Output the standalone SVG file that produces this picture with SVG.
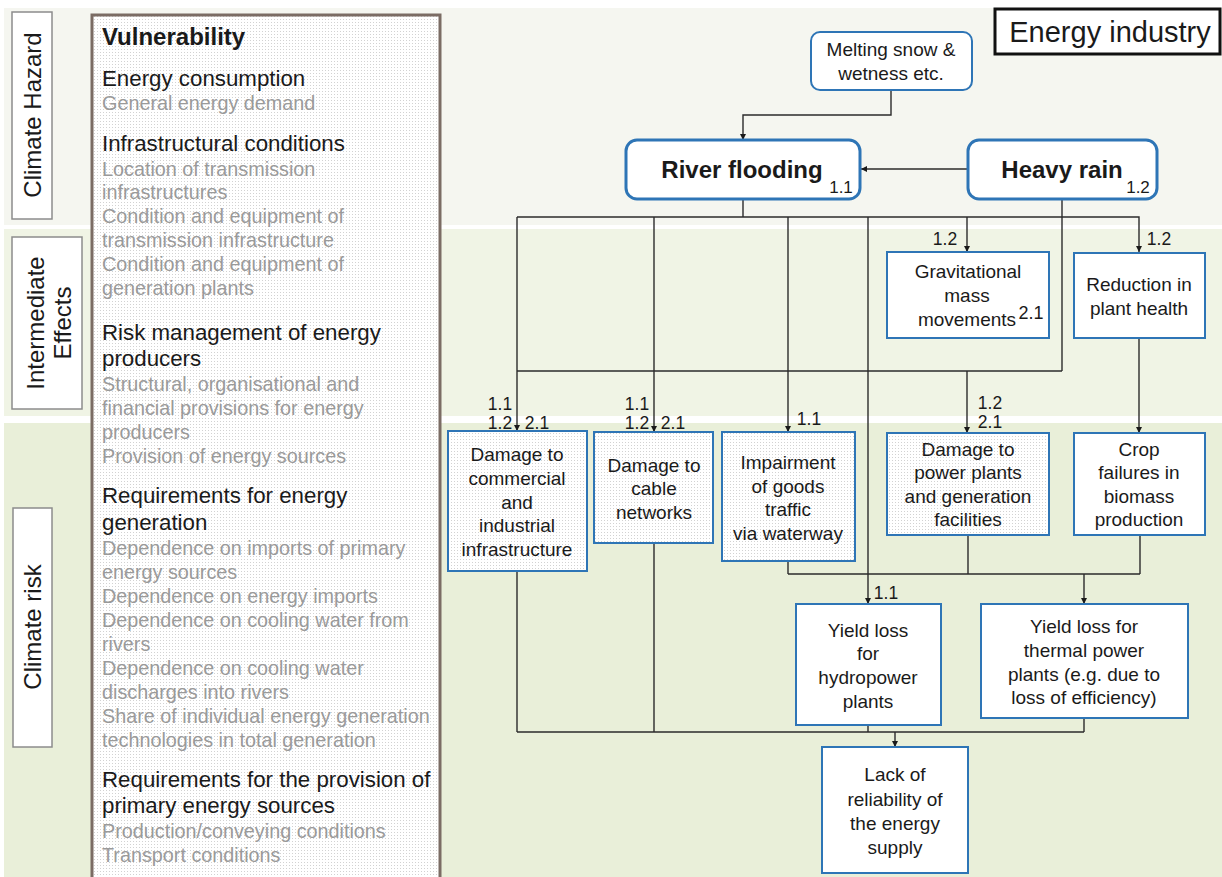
<svg xmlns="http://www.w3.org/2000/svg" width="1222" height="877" viewBox="0 0 1222 877">
  <style>
    text { font-family: "Liberation Sans", Arial, sans-serif; fill: #1a1a1a; }
    .band-label { fill: #fff; stroke: #8c8c8c; stroke-width: 1.5; }
    .side { font-family: "Liberation Sans", Arial, sans-serif; font-size: 24px; text-anchor: middle; }
    .head { font-size: 22.3px; }
    .sub { font-size: 19.8px; fill: #9a9a9a; }
    .node { fill: #fff; stroke: #2e75b6; stroke-width: 2; }
    .node-dot { fill: url(#dots); stroke: #2e75b6; stroke-width: 2; }
    .hazard { fill: #fff; stroke: #2e75b6; stroke-width: 3; }
    .nt { font-size: 19px; text-anchor: middle; }
    .lbl { font-size: 17.5px; text-anchor: middle; }
    .conn path { fill: none; stroke: #2b2b2b; stroke-width: 1.4; }
  </style>
  <defs>
    <pattern id="dots" width="3" height="3" patternUnits="userSpaceOnUse">
      <rect width="3" height="3" fill="#fff"/>
      <rect x="1" y="1" width="1" height="1" fill="#d2d2d2"/>
    </pattern>
    <marker id="arr" viewBox="0 0 10 10" refX="10" refY="5" markerWidth="7" markerHeight="6" orient="auto" markerUnits="userSpaceOnUse">
      <path d="M0,0 L10,5 L0,10 z" fill="#1a1a1a"/>
    </marker>
  </defs>

  <!-- background -->
  <rect width="1222" height="877" fill="#fff"/>

  <!-- horizontal bands -->
  <g id="bands">
    <rect x="4" y="8" width="1218" height="217" fill="#f5f6f0"/>
    <rect x="4" y="229" width="1218" height="187" fill="#f0f4e5"/>
    <rect x="4" y="423" width="1218" height="454" fill="#e9efd9"/>
  </g>

  <!-- band labels -->
  <g id="label-hazard">
    <rect class="band-label" x="12" y="12" width="40" height="207"/>
    <text class="side" transform="translate(41,115) rotate(-90)">Climate Hazard</text>
  </g>
  <g id="label-intermediate">
    <rect class="band-label" x="12" y="237" width="70" height="172"/>
    <text class="side" transform="translate(44,323) rotate(-90)">Intermediate</text>
    <text class="side" transform="translate(71,323) rotate(-90)">Effects</text>
  </g>
  <g id="label-risk">
    <rect class="band-label" x="13" y="508" width="39" height="239"/>
    <text class="side" transform="translate(41,627) rotate(-90)">Climate risk</text>
  </g>

  <!-- vulnerability column -->
  <g id="vulnerability">
    <rect x="92" y="15" width="348" height="870" fill="url(#dots)" stroke="#7b6c64" stroke-width="3"/>
    <text x="102" y="45" font-size="24" font-weight="bold">Vulnerability</text>
    <text class="head" x="102" y="86">Energy consumption</text>
    <text class="sub" x="102" y="110">General energy demand</text>
    <text class="head" x="102" y="151">Infrastructural conditions</text>
    <text class="sub" x="102" y="176">Location of transmission</text>
    <text class="sub" x="102" y="199">infrastructures</text>
    <text class="sub" x="102" y="223">Condition and equipment of</text>
    <text class="sub" x="102" y="247">transmission infrastructure</text>
    <text class="sub" x="102" y="271">Condition and equipment of</text>
    <text class="sub" x="102" y="295">generation plants</text>
    <text class="head" x="102" y="340">Risk management of energy</text>
    <text class="head" x="102" y="366">producers</text>
    <text class="sub" x="102" y="391">Structural, organisational and</text>
    <text class="sub" x="102" y="415">financial provisions for energy</text>
    <text class="sub" x="102" y="439">producers</text>
    <text class="sub" x="102" y="463">Provision of energy sources</text>
    <text class="head" x="102" y="503">Requirements for energy</text>
    <text class="head" x="102" y="530">generation</text>
    <text class="sub" x="102" y="555">Dependence on imports of primary</text>
    <text class="sub" x="102" y="579">energy sources</text>
    <text class="sub" x="102" y="603">Dependence on energy imports</text>
    <text class="sub" x="102" y="627">Dependence on cooling water from</text>
    <text class="sub" x="102" y="651">rivers</text>
    <text class="sub" x="102" y="675">Dependence on cooling water</text>
    <text class="sub" x="102" y="699">discharges into rivers</text>
    <text class="sub" x="102" y="723">Share of individual energy generation</text>
    <text class="sub" x="102" y="747">technologies in total generation</text>
    <text class="head" x="102" y="787">Requirements for the provision of</text>
    <text class="head" x="102" y="813">primary energy sources</text>
    <text class="sub" x="102" y="838">Production/conveying conditions</text>
    <text class="sub" x="102" y="862">Transport conditions</text>
  </g>

  <!-- sector title -->
  <g id="sector-title">
    <rect x="995" y="9" width="225" height="45" fill="#fff" stroke="#111" stroke-width="3"/>
    <text x="1110" y="42" font-size="29" text-anchor="middle">Energy industry</text>
  </g>

  <!-- connectors -->
  <g id="connectors" class="conn">
    <path d="M891,91 V115 H743 V140" marker-end="url(#arr)"/>
    <path d="M968,169 H861" marker-end="url(#arr)"/>
    <path d="M743,199 V217"/>
    <path d="M517,217 H1062"/>
    <path d="M1062,199 V371"/>
    <path d="M1062,217 H1139 V252" marker-end="url(#arr)"/>
    <path d="M967,217 V252" marker-end="url(#arr)"/>
    <path d="M517,217 V431" marker-end="url(#arr)"/>
    <path d="M654,217 V432" marker-end="url(#arr)"/>
    <path d="M788,217 V432" marker-end="url(#arr)"/>
    <path d="M868,217 V604" marker-end="url(#arr)"/>
    <path d="M517,371 H1062"/>
    <path d="M967,371 V433" marker-end="url(#arr)"/>
    <path d="M1139,338 V433" marker-end="url(#arr)"/>
    <path d="M788,561 V574 M968,535 V574 M1140,535 V574 M788,574 H1140"/>
    <path d="M1084,574 V604" marker-end="url(#arr)"/>
    <path d="M517,571 V732 M654,543 V732 M868,725 V732 M1084,718 V732 M517,732 H1084"/>
    <path d="M895,732 V747" marker-end="url(#arr)"/>
  </g>

  <!-- connector labels -->
  <g id="connector-labels">
    <text class="lbl" x="500" y="410">1.1</text>
    <text class="lbl" x="500" y="429">1.2</text>
    <text class="lbl" x="537" y="429">2.1</text>
    <text class="lbl" x="637" y="410">1.1</text>
    <text class="lbl" x="637" y="429">1.2</text>
    <text class="lbl" x="673" y="429">2.1</text>
    <text class="lbl" x="809" y="425">1.1</text>
    <text class="lbl" x="945" y="245">1.2</text>
    <text class="lbl" x="1159" y="245">1.2</text>
    <text class="lbl" x="990" y="409">1.2</text>
    <text class="lbl" x="990" y="428">2.1</text>
    <text class="lbl" x="886" y="599">1.1</text>
  </g>

  <!-- hazard nodes -->
  <g id="melting-snow">
    <rect class="node" x="811" y="32" width="161" height="58" rx="9"/>
    <text class="nt" font-size="18.5" x="891" y="56">Melting snow &amp;</text>
    <text class="nt" font-size="18.5" x="891" y="80">wetness etc.</text>
  </g>
  <g id="river-flooding">
    <rect class="hazard" x="626" y="140" width="234" height="59" rx="11"/>
    <text x="742" y="178" font-size="24" font-weight="bold" text-anchor="middle">River flooding</text>
    <text x="841" y="193" font-size="17" text-anchor="middle">1.1</text>
  </g>
  <g id="heavy-rain">
    <rect class="hazard" x="968" y="140" width="189" height="59" rx="11"/>
    <text x="1062" y="178" font-size="24" font-weight="bold" text-anchor="middle">Heavy rain</text>
    <text x="1138" y="193" font-size="17" text-anchor="middle">1.2</text>
  </g>

  <!-- intermediate effects -->
  <g id="gravitational">
    <rect class="node" x="887" y="252" width="162" height="86"/>
    <text class="nt" x="968" y="278">Gravitational</text>
    <text class="nt" x="967" y="302">mass</text>
    <text class="nt" x="967" y="326">movements</text>
    <text x="1031" y="319" font-size="18" text-anchor="middle">2.1</text>
  </g>
  <g id="plant-health">
    <rect class="node" x="1074" y="253" width="131" height="85"/>
    <text class="nt" x="1139" y="291">Reduction in</text>
    <text class="nt" x="1139" y="315">plant health</text>
  </g>

  <!-- climate risks -->
  <g id="damage-commercial">
    <rect class="node-dot" x="448" y="431" width="139" height="140"/>
    <text class="nt" x="517" y="461">Damage to</text>
    <text class="nt" x="517" y="485">commercial</text>
    <text class="nt" x="517" y="509">and</text>
    <text class="nt" x="517" y="532">industrial</text>
    <text class="nt" x="517" y="556">infrastructure</text>
  </g>
  <g id="damage-cable">
    <rect class="node-dot" x="594" y="432" width="119" height="111"/>
    <text class="nt" x="654" y="472">Damage to</text>
    <text class="nt" x="654" y="495">cable</text>
    <text class="nt" x="654" y="519">networks</text>
  </g>
  <g id="waterway">
    <rect class="node-dot" x="722" y="432" width="133" height="129"/>
    <text class="nt" x="788" y="469">Impairment</text>
    <text class="nt" x="788" y="493">of goods</text>
    <text class="nt" x="788" y="516">traffic</text>
    <text class="nt" x="788" y="540">via waterway</text>
  </g>
  <g id="damage-power-plants">
    <rect class="node-dot" x="887" y="433" width="162" height="102"/>
    <text class="nt" x="968" y="456">Damage to</text>
    <text class="nt" x="968" y="479">power plants</text>
    <text class="nt" x="968" y="503">and generation</text>
    <text class="nt" x="968" y="526">facilities</text>
  </g>
  <g id="crop-failures">
    <rect class="node" x="1074" y="433" width="131" height="102"/>
    <text class="nt" x="1139" y="456">Crop</text>
    <text class="nt" x="1139" y="479">failures in</text>
    <text class="nt" x="1139" y="503">biomass</text>
    <text class="nt" x="1139" y="526">production</text>
  </g>
  <g id="yield-hydropower">
    <rect class="node" x="796" y="604" width="145" height="121"/>
    <text class="nt" x="868" y="637">Yield loss</text>
    <text class="nt" x="868" y="660">for</text>
    <text class="nt" x="868" y="684">hydropower</text>
    <text class="nt" x="868" y="708">plants</text>
  </g>
  <g id="yield-thermal">
    <rect class="node" x="981" y="604" width="207" height="114"/>
    <text class="nt" x="1084" y="633">Yield loss for</text>
    <text class="nt" x="1084" y="657">thermal power</text>
    <text class="nt" x="1084" y="681">plants (e.g. due to</text>
    <text class="nt" x="1084" y="704">loss of efficiency)</text>
  </g>
  <g id="supply-reliability">
    <rect class="node" x="822" y="747" width="146" height="126"/>
    <text class="nt" x="895" y="781">Lack of</text>
    <text class="nt" x="895" y="806">reliability of</text>
    <text class="nt" x="895" y="830">the energy</text>
    <text class="nt" x="895" y="854">supply</text>
  </g>
</svg>
